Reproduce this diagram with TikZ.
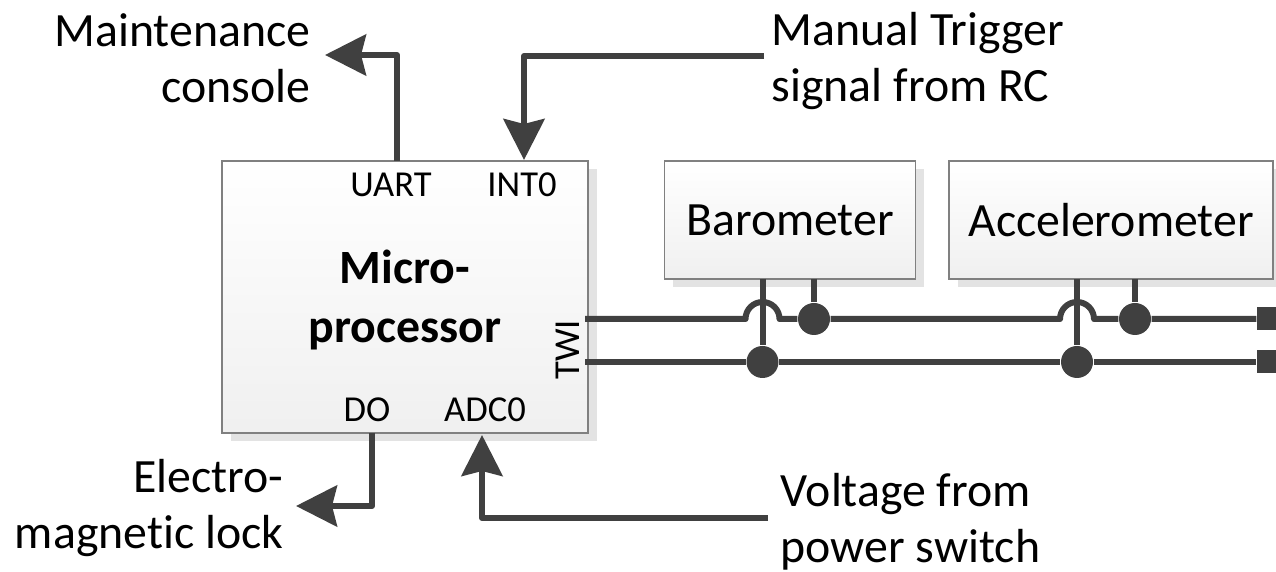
\documentclass[tikz,border=0pt]{standalone}
\usepackage{fontspec}
\setmainfont[Ligatures=NoCommon]{Carlito}
\usetikzlibrary{arrows.meta,positioning,shadows}

\tikzset{
  block/.style={draw=black!50, line width=0.015cm, top color=white, bottom color=black!6,
    inner sep=0pt, align=center, font=\fontsize{13.6}{16}\selectfont,
    general shadow={fill=black!11, shadow xshift=0.085cm, shadow yshift=-0.085cm}},
  lbl/.style={inner sep=0pt, font=\fontsize{13.6}{16}\selectfont},
  port/.style={inner sep=0pt, font=\fontsize{10.4}{12}\selectfont},
  sig/.style={draw=black!75, line width=0.06cm, line join=round},
  sigarrow/.style={sig, -{Stealth[length=0.41cm,width=0.41cm,inset=0.05cm]}},
  dot/.style={circle, fill=black!75, minimum size=0.32cm, inner sep=0pt},
  term/.style={rectangle, fill=black!75, minimum width=0.19cm, minimum height=0.23cm, inner sep=0pt},
}

\begin{document}
\begin{tikzpicture}
  \useasboundingbox (0,0) rectangle (12.76,5.72);

  % blocks
  \node[block, minimum width=3.66cm, minimum height=2.72cm] (micro) at (4.05,2.75) {};
  \node[block, minimum width=2.51cm, minimum height=1.18cm] (baro) at (7.90,3.52) {Barometer};
  \node[block, minimum width=3.24cm, minimum height=1.18cm] (accel) at (11.11,3.52) {Accelerometer};
  \node[lbl, align=center] (microText) at (4.05,2.72) {\bfseries Micro-\\[0.6pt]\bfseries processor};

  % port labels
  \node[port] (uart) at (3.91,3.87) {UART};
  \node[port] (int0) at (5.22,3.87) {INT0};
  \node[port] (do) at (3.67,1.62) {DO};
  \node[port] (adc0) at (4.85,1.62) {ADC0};
  \node[port, rotate=90] (twi) at (5.68,2.22) {TWI};

  % outer labels
  \node[lbl, align=right, anchor=east] (console) at (3.11,5.14) {Maintenance\\console};
  \node[lbl, align=left, anchor=west] (trigger) at (7.71,5.11) {Manual Trigger\\signal from RC};
  \node[lbl, align=right, anchor=east] (lock) at (2.84,0.64) {Electro-\\magnetic lock};
  \node[lbl, align=left, anchor=west] (switch) at (7.80,0.505) {Voltage from\\power switch};

  % free ends
  \coordinate (uartA) at (3.97,4.11);
  \coordinate (uartB) at (3.25,5.17);
  \coordinate (intA) at (7.64,5.16);
  \coordinate (intB) at (5.24,4.12);
  \coordinate (doA) at (3.72,1.39);
  \coordinate (doB) at (2.96,0.66);
  \coordinate (adcA) at (7.68,0.54);
  \coordinate (adcB) at (4.82,1.37);

  % arrows
  \draw[sigarrow] (uartA) |- (uartB);
  \draw[sigarrow] (intA) -| (intB);
  \draw[sigarrow] (doA) |- (doB);
  \draw[sigarrow] (adcA) -| (adcB);

  % bus dots and terminals
  \node[dot] (dotA) at (8.14,2.53) {};
  \node[dot] (dotB) at (7.625,2.10) {};
  \node[dot] (dotC) at (11.35,2.53) {};
  \node[dot] (dotD) at (10.77,2.10) {};
  \node[term] (termA) at (12.665,2.53) {};
  \node[term] (termB) at (12.665,2.10) {};

  % bus lines
  \coordinate (twiA) at (5.85,2.53);
  \coordinate (twiB) at (5.85,2.10);
  \draw[sig] (twiA) -- (7.455,2.53) arc[start angle=180, end angle=0, radius=0.17]
    -- (dotA) -- (10.60,2.53) arc[start angle=180, end angle=0, radius=0.17]
    -- (dotC) -- (termA);
  \draw[sig] (twiB) -- (dotB) -- (dotD) -- (termB);

  % stems
  \coordinate (baroA) at (7.625,2.93);
  \coordinate (baroB) at (8.14,2.93);
  \coordinate (accelA) at (10.77,2.93);
  \coordinate (accelB) at (11.35,2.93);
  \draw[sig] (baroA) -- (dotB);
  \draw[sig] (baroB) -- (dotA);
  \draw[sig] (accelA) -- (dotD);
  \draw[sig] (accelB) -- (dotC);
\end{tikzpicture}
\end{document}
